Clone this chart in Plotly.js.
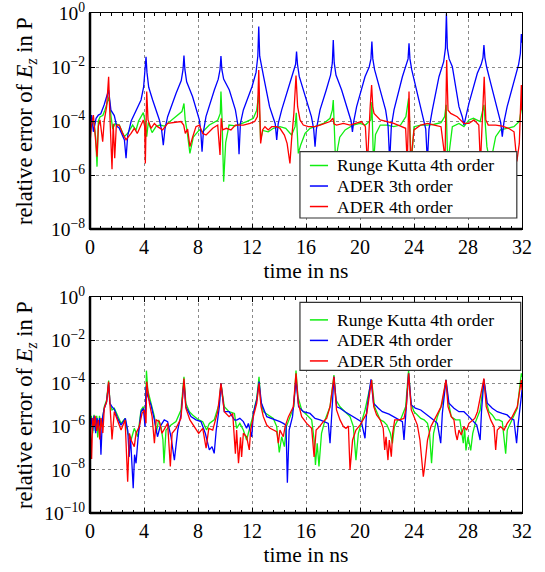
<!DOCTYPE html>
<html>
<head>
<meta charset="utf-8">
<script src="https://cdn.plot.ly/plotly-3.0.1.min.js"></script>
<style>html,body{margin:0;padding:0;background:#fff;}#chart{width:545px;height:572px;}</style>
</head>
<body>
<div id="chart"></div>
<script>
// Each entry: [time in ns, log10(relative error)]
const seriesNamesTop = ["Runge Kutta 4th order", "ADER 3th order", "ADER 4th order"];
const seriesNamesBottom = ["Runge Kutta 4th order", "ADER 4th order", "ADER 5th order"];
const xTicks = [0, 4, 8, 12, 16, 20, 24, 28, 32];
const yTickExpTop = [0, -2, -4, -6, -8];
const yTickExpBottom = [0, -2, -4, -6, -8, -10];
const xTitle = "time in ns";
const yTitle = "relative error of <i>E<sub>z</sub></i> in P";

const topRk4 = [[0,-4.2],[0.15,-3.9],[0.3,-4.1],[0.42,-4.6],[0.52,-5.69],[0.62,-4.0],[0.75,-3.84],[0.95,-3.8],[1.1,-3.6],[1.3,-3.22],[1.42,-3.1],[1.55,-3.8],[1.68,-4.3],[1.85,-4.1],[2.17,-4.15],[2.54,-4.58],[2.8,-4.45],[3.16,-4.15],[3.4,-4.35],[3.6,-4.0],[3.78,-3.84],[3.95,-3.69],[4.08,-4.0],[4.2,-4.58],[4.32,-4.05],[4.6,-4.43],[4.9,-4.2],[5.2,-4.15],[5.5,-4.19],[5.9,-4.02],[6.37,-3.84],[6.81,-3.65],[6.96,-3.35],[7.05,-3.95],[7.2,-4.4],[7.4,-5.2],[7.65,-4.6],[8.1,-4.33],[8.35,-4.4],[8.84,-4.15],[9.46,-3.97],[9.65,-3.72],[9.7,-2.91],[9.78,-3.9],[9.9,-6.25],[10.05,-4.8],[10.3,-4.15],[10.77,-4.18],[11.6,-4.02],[12.1,-3.9],[12.35,-3.6],[12.5,-2.98],[12.64,-4.7],[12.8,-4.35],[13.2,-4.4],[13.58,-4.27],[14.07,-4.21],[14.5,-4.27],[14.93,-4.52],[15.19,-4.21],[15.28,-3.7],[15.43,-5.2],[15.6,-4.9],[15.93,-4.46],[16.3,-4.27],[16.79,-4.19],[17.3,-4.09],[17.78,-3.9],[17.95,-3.6],[18.02,-3.22],[18.1,-4.2],[18.2,-5.6],[18.35,-5.0],[18.5,-4.6],[18.9,-4.33],[19.5,-4.15],[19.98,-4.09],[20.4,-4.15],[20.8,-3.96],[20.88,-3.3],[21.0,-5.6],[21.15,-4.5],[21.5,-4.15],[22.0,-4.15],[22.5,-4.21],[23.0,-4.15],[23.4,-3.84],[23.6,-3.16],[23.7,-4.3],[23.8,-5.6],[24.0,-4.21],[24.5,-4.15],[25.0,-4.15],[25.5,-4.12],[26.0,-4.06],[26.27,-3.84],[26.38,-3.4],[26.5,-5.6],[26.84,-4.21],[27.33,-4.09],[27.7,-4.21],[28.07,-3.96],[28.4,-3.9],[28.9,-4.02],[29.18,-3.4],[29.4,-4.95],[29.65,-5.6],[30.05,-4.58],[30.4,-4.33],[30.9,-4.27],[31.4,-4.21],[31.8,-4.02],[32.0,-3.4]];

const topAder3 = [[0,-4.21],[0.12,-3.78],[0.25,-4.4],[0.45,-3.9],[0.62,-3.78],[0.8,-3.73],[1.05,-3.4],[1.25,-3.1],[1.38,-2.85],[1.48,-3.3],[1.55,-3.6],[1.8,-3.8],[1.98,-4.2],[2.15,-4.25],[2.4,-4.5],[2.55,-4.7],[2.67,-5.38],[2.79,-4.55],[3.05,-4.0],[3.41,-3.59],[3.78,-3.22],[3.97,-2.75],[4.08,-2.2],[4.15,-1.62],[4.22,-2.2],[4.35,-2.75],[4.64,-3.22],[5.14,-3.96],[5.31,-4.35],[5.43,-4.9],[5.55,-4.3],[5.75,-3.84],[6.37,-2.98],[6.76,-2.5],[6.89,-2.1],[6.96,-1.58],[7.03,-2.1],[7.16,-2.55],[7.6,-3.1],[8.1,-3.96],[8.2,-4.35],[8.3,-5.14],[8.4,-4.4],[8.59,-3.84],[9.21,-2.85],[9.5,-2.45],[9.63,-2.1],[9.7,-1.59],[9.77,-2.1],[9.9,-2.45],[10.32,-2.85],[10.77,-3.59],[10.94,-4.1],[11.04,-5.23],[11.14,-4.1],[11.36,-3.59],[12.0,-2.73],[12.3,-2.2],[12.43,-1.6],[12.5,-0.5],[12.57,-1.6],[12.7,-2.0],[12.86,-2.36],[13.3,-3.47],[13.72,-4.1],[13.83,-4.7],[13.94,-4.1],[14.2,-3.59],[14.81,-2.6],[15.1,-2.2],[15.23,-1.9],[15.3,-1.43],[15.37,-1.9],[15.5,-2.35],[15.9,-2.98],[16.4,-3.84],[16.57,-4.3],[16.67,-4.95],[16.77,-4.3],[17.04,-3.59],[17.5,-2.85],[17.82,-2.3],[17.95,-1.85],[18.02,-1.0],[18.09,-1.85],[18.22,-2.3],[18.64,-2.85],[19.14,-3.72],[19.34,-4.0],[19.44,-4.4],[19.54,-4.0],[19.75,-3.47],[20.37,-2.36],[20.68,-2.0],[20.81,-1.7],[20.88,-1.06],[20.95,-1.7],[21.08,-2.1],[21.48,-2.85],[21.9,-3.6],[22.08,-4.2],[22.2,-5.5],[22.32,-4.2],[22.52,-3.59],[23.14,-2.36],[23.43,-1.95],[23.56,-1.7],[23.63,-1.12],[23.7,-1.7],[23.83,-2.1],[24.12,-2.73],[24.62,-3.84],[24.87,-4.3],[24.99,-5.5],[25.11,-4.3],[25.36,-3.59],[25.85,-2.36],[26.2,-1.8],[26.33,-1.3],[26.4,-0.02],[26.47,-1.3],[26.6,-1.7],[26.84,-1.99],[27.33,-3.47],[27.58,-3.85],[27.7,-4.15],[27.82,-3.85],[28.07,-3.35],[28.69,-2.23],[28.98,-1.9],[29.11,-1.65],[29.18,-1.19],[29.25,-1.65],[29.38,-2.0],[29.68,-2.6],[30.17,-3.59],[30.42,-4.05],[30.54,-4.58],[30.66,-4.05],[30.9,-3.47],[31.53,-2.36],[31.75,-1.9],[31.88,-1.5],[31.95,-0.78],[32.0,-1.1]];

const topAder4 = [[0,-4.83],[0.1,-4.2],[0.25,-3.78],[0.38,-4.4],[0.52,-5.32],[0.62,-4.2],[0.74,-3.96],[0.94,-4.77],[1.05,-4.0],[1.23,-3.47],[1.38,-2.36],[1.48,-3.9],[1.63,-5.79],[1.72,-4.1],[1.83,-5.38],[1.95,-4.15],[2.17,-4.15],[2.42,-4.46],[2.67,-4.7],[3.04,-4.46],[3.28,-4.27],[3.5,-4.46],[3.78,-4.15],[3.95,-3.96],[4.05,-4.2],[4.1,-5.57],[4.2,-2.91],[4.3,-3.96],[4.52,-4.27],[4.77,-4.09],[5.0,-4.21],[5.38,-4.33],[5.75,-4.09],[6.25,-4.06],[6.74,-4.02],[6.94,-4.15],[7.06,-4.46],[7.23,-4.3],[7.4,-4.95],[7.6,-4.6],[7.85,-4.21],[8.1,-4.15],[8.35,-4.46],[8.6,-4.52],[9.09,-4.27],[9.46,-4.15],[9.63,-5.26],[9.72,-3.9],[9.83,-4.33],[10.1,-4.27],[10.44,-4.33],[10.77,-4.15],[11.36,-4.15],[11.85,-4.09],[12.2,-4.02],[12.4,-3.84],[12.5,-2.11],[12.64,-4.83],[12.78,-4.33],[12.96,-4.21],[13.2,-4.33],[13.46,-4.21],[13.83,-4.21],[14.07,-4.27],[14.4,-4.52],[14.6,-4.83],[14.81,-5.57],[14.93,-4.7],[15.1,-3.72],[15.26,-2.32],[15.38,-3.47],[15.56,-3.96],[15.8,-4.15],[16.17,-4.21],[16.67,-4.21],[17.04,-4.15],[17.41,-4.09],[17.78,-4.02],[18.0,-3.9],[18.07,-4.1],[18.26,-4.15],[18.77,-4.09],[19.26,-4.15],[19.75,-4.09],[20.1,-4.02],[20.4,-4.21],[20.55,-5.6],[20.75,-3.5],[20.86,-2.67],[20.95,-3.5],[21.04,-3.72],[21.5,-3.96],[22.0,-4.02],[22.5,-4.09],[23.0,-4.19],[23.38,-4.27],[23.5,-5.6],[23.63,-2.91],[23.75,-5.6],[24.0,-4.33],[24.5,-4.15],[25.0,-4.09],[25.5,-4.15],[26.0,-4.21],[26.3,-5.4],[26.42,-1.74],[26.52,-3.6],[26.72,-3.72],[27.2,-3.84],[27.7,-4.09],[28.07,-4.09],[28.44,-3.96],[28.8,-4.15],[28.92,-5.6],[29.2,-2.36],[29.32,-3.96],[29.5,-4.15],[30.05,-4.15],[30.54,-4.19],[31.0,-4.27],[31.41,-4.4],[31.62,-5.5],[31.8,-4.83],[31.95,-2.67],[32.0,-3.6]];

const botRk4 = [[0,-6.0],[0.1,-5.5],[0.2,-6.3],[0.3,-5.45],[0.4,-6.2],[0.5,-5.5],[0.57,-6.5],[0.7,-5.5],[0.85,-6.0],[0.95,-5.45],[1.06,-5.08],[1.23,-4.77],[1.38,-3.87],[1.48,-4.92],[1.63,-5.23],[1.8,-5.15],[2.05,-5.54],[2.3,-5.85],[2.6,-5.62],[2.8,-6.31],[3.04,-6.62],[3.28,-6.08],[3.53,-6.47],[3.78,-5.23],[3.95,-5.08],[4.1,-5.54],[4.18,-3.41],[4.28,-4.31],[4.52,-4.92],[4.77,-5.54],[4.9,-6.31],[5.09,-5.69],[5.26,-6.0],[5.4,-6.6],[5.48,-7.7],[5.63,-6.16],[6.0,-5.93],[6.37,-5.77],[6.74,-5.23],[6.96,-3.69],[7.1,-4.92],[7.36,-5.31],[7.6,-5.46],[7.98,-5.66],[8.35,-5.77],[8.64,-6.16],[8.84,-5.85],[9.2,-5.69],[9.58,-4.92],[9.7,-4.0],[9.95,-5.08],[10.3,-5.31],[10.7,-5.39],[10.86,-6.08],[11.1,-5.85],[11.36,-6.16],[11.6,-6.62],[11.85,-6.08],[12.05,-5.54],[12.2,-5.08],[12.35,-4.69],[12.52,-3.7],[12.64,-4.77],[12.84,-5.31],[13.2,-5.46],[13.58,-5.62],[13.83,-6.0],[14.02,-7.2],[14.2,-6.47],[14.4,-6.93],[14.55,-6.0],[14.81,-5.54],[15.1,-5.08],[15.26,-3.41],[15.4,-4.61],[15.68,-5.23],[16.05,-5.46],[16.42,-5.69],[16.6,-6.6],[16.7,-7.78],[16.83,-6.77],[16.96,-7.85],[17.15,-6.31],[17.41,-5.69],[17.78,-5.08],[18.07,-3.61],[18.22,-4.77],[18.52,-5.08],[18.89,-5.31],[19.26,-5.54],[19.51,-6.0],[19.7,-7.55],[19.88,-6.31],[20.1,-5.77],[20.37,-5.23],[20.86,-3.84],[21.08,-5.08],[21.5,-5.69],[21.75,-5.77],[22.0,-5.93],[22.25,-6.31],[22.4,-6.78],[22.55,-6.0],[22.8,-5.69],[23.0,-5.69],[23.38,-5.08],[23.6,-3.38],[23.77,-4.92],[24.0,-5.31],[24.25,-5.46],[24.5,-5.62],[24.75,-5.69],[25.0,-5.85],[25.15,-6.31],[25.3,-7.7],[25.45,-6.31],[25.73,-5.54],[26.1,-4.92],[26.37,-3.84],[26.52,-4.77],[26.76,-5.54],[27.09,-5.69],[27.4,-5.69],[27.65,-6.77],[27.75,-6.08],[27.85,-7.1],[28.0,-6.47],[28.2,-7.1],[28.35,-6.31],[28.57,-5.77],[28.9,-5.23],[29.18,-3.84],[29.38,-4.92],[29.55,-5.31],[29.8,-5.46],[30.05,-5.69],[30.3,-5.69],[30.54,-5.77],[30.79,-7.25],[30.91,-6.16],[31.28,-5.69],[31.65,-5.15],[31.95,-3.53],[32.0,-3.7]];

const botAder4 = [[0,-6.1],[0.1,-5.6],[0.2,-6.2],[0.3,-5.5],[0.42,-6.3],[0.52,-5.6],[0.62,-6.0],[0.72,-5.6],[0.81,-7.3],[0.92,-5.6],[1.06,-5.15],[1.23,-4.85],[1.38,-4.0],[1.48,-4.92],[1.63,-5.08],[1.8,-5.2],[2.05,-5.62],[2.3,-5.93],[2.62,-5.62],[2.8,-6.2],[2.9,-7.4],[3.0,-6.47],[3.2,-8.85],[3.3,-7.3],[3.41,-7.7],[3.55,-6.6],[3.78,-5.31],[3.95,-5.15],[4.08,-6.0],[4.15,-4.15],[4.28,-4.6],[4.52,-5.0],[4.77,-5.69],[5.0,-6.47],[5.19,-6.0],[5.5,-5.69],[5.75,-5.77],[6.0,-6.47],[6.25,-7.55],[6.5,-6.16],[6.74,-5.46],[6.96,-3.92],[7.1,-5.08],[7.48,-5.54],[7.85,-5.69],[8.22,-5.77],[8.54,-6.31],[8.7,-6.7],[8.84,-7.08],[9.04,-6.93],[9.2,-7.24],[9.35,-6.16],[9.58,-5.08],[9.7,-4.0],[9.95,-5.31],[10.3,-5.31],[10.7,-5.69],[10.86,-5.7],[11.1,-5.62],[11.36,-5.77],[11.6,-6.08],[11.73,-5.85],[11.98,-6.47],[12.1,-5.39],[12.35,-4.77],[12.52,-3.92],[12.7,-4.92],[13.09,-5.54],[13.46,-5.62],[13.83,-5.69],[14.07,-5.77],[14.32,-5.85],[14.52,-5.93],[14.62,-8.6],[14.75,-6.16],[15.0,-5.54],[15.26,-3.84],[15.45,-5.08],[15.8,-5.31],[16.3,-5.39],[16.67,-5.62],[17.04,-5.69],[17.41,-5.77],[17.65,-5.85],[17.78,-6.77],[17.9,-5.23],[18.07,-3.69],[18.27,-5.08],[18.52,-5.15],[18.89,-5.31],[19.26,-5.46],[19.63,-5.62],[19.88,-5.69],[20.1,-5.77],[20.37,-6.54],[20.5,-5.23],[20.81,-3.81],[21.0,-4.92],[21.36,-5.15],[21.65,-5.31],[22.15,-5.42],[22.5,-5.54],[22.9,-5.69],[23.14,-5.77],[23.26,-6.62],[23.4,-5.23],[23.6,-3.53],[23.8,-5.0],[24.1,-5.15],[24.5,-5.23],[24.86,-5.39],[25.2,-5.54],[25.45,-5.69],[25.73,-5.85],[25.98,-6.77],[26.1,-5.39],[26.37,-3.84],[26.59,-4.92],[26.96,-5.15],[27.33,-5.31],[27.7,-5.31],[28.07,-5.54],[28.44,-5.77],[28.65,-5.93],[28.9,-6.62],[29.0,-5.31],[29.18,-3.81],[29.43,-4.92],[29.8,-5.15],[30.17,-5.31],[30.54,-5.39],[30.9,-5.46],[31.16,-5.62],[31.4,-5.69],[31.6,-6.77],[31.72,-5.85],[31.95,-4.61],[32.0,-4.31]];

const botAder5 = [[0,-5.6],[0.05,-6.8],[0.12,-7.5],[0.2,-5.6],[0.3,-6.0],[0.38,-5.5],[0.5,-6.2],[0.62,-5.7],[0.72,-6.6],[0.82,-5.6],[0.95,-6.3],[1.06,-5.15],[1.23,-4.85],[1.38,-3.92],[1.48,-5.08],[1.63,-6.6],[1.8,-5.31],[2.05,-5.77],[2.3,-6.16],[2.6,-5.69],[2.79,-8.55],[2.92,-6.31],[3.04,-6.62],[3.28,-6.93],[3.41,-6.31],[3.65,-6.0],[3.85,-5.39],[4.02,-5.23],[4.15,-5.85],[4.2,-3.92],[4.4,-4.92],[4.6,-5.54],[4.77,-6.77],[4.9,-5.69],[5.14,-5.77],[5.33,-6.31],[5.58,-6.0],[5.75,-5.85],[5.95,-7.85],[6.08,-6.31],[6.37,-6.08],[6.74,-5.62],[6.96,-3.77],[7.1,-5.15],[7.4,-5.69],[7.73,-6.0],[8.05,-6.31],[8.35,-6.08],[8.6,-7.0],[8.8,-6.08],[9.09,-6.16],[9.46,-5.31],[9.7,-4.0],[9.95,-5.31],[10.3,-5.54],[10.57,-5.39],[10.77,-7.25],[10.86,-6.16],[11.0,-7.7],[11.15,-6.5],[11.23,-7.4],[11.36,-6.31],[11.6,-6.47],[11.8,-7.08],[11.9,-6.16],[12.1,-5.54],[12.35,-4.92],[12.52,-4.0],[12.67,-5.08],[12.84,-5.54],[13.09,-5.93],[13.34,-6.08],[13.58,-6.16],[13.83,-6.24],[13.95,-6.77],[14.07,-6.16],[14.32,-6.47],[14.45,-6.0],[14.7,-5.54],[15.06,-5.08],[15.26,-3.53],[15.43,-4.92],[15.68,-5.54],[16.05,-5.85],[16.42,-6.08],[16.6,-7.4],[16.75,-6.16],[17.0,-6.0],[17.28,-5.77],[17.53,-5.62],[17.78,-5.08],[18.07,-3.69],[18.26,-5.23],[18.52,-5.69],[18.77,-6.0],[18.96,-6.08],[19.14,-5.97],[19.26,-8.01],[19.45,-6.62],[19.7,-6.16],[20.0,-5.93],[20.25,-5.69],[20.5,-5.39],[20.86,-3.84],[21.02,-5.08],[21.23,-5.46],[21.5,-5.69],[21.72,-6.08],[21.83,-7.08],[21.93,-6.47],[22.07,-7.55],[22.17,-6.62],[22.32,-7.39],[22.42,-6.31],[22.57,-5.69],[22.9,-5.69],[23.26,-5.62],[23.43,-5.08],[23.6,-3.53],[23.8,-5.23],[24.0,-5.54],[24.25,-5.93],[24.44,-6.62],[24.57,-7.47],[24.69,-8.32],[24.79,-7.85],[24.85,-7.55],[25.0,-6.62],[25.25,-6.0],[25.6,-5.54],[26.0,-5.08],[26.37,-3.84],[26.52,-5.08],[26.76,-5.54],[26.96,-5.69],[27.08,-6.31],[27.2,-6.62],[27.33,-6.16],[27.5,-6.39],[27.7,-6.0],[27.9,-6.16],[28.07,-5.85],[28.25,-5.77],[28.5,-5.62],[28.7,-5.31],[29.18,-3.77],[29.35,-5.08],[29.68,-5.69],[29.93,-6.0],[30.05,-7.08],[30.17,-6.16],[30.42,-6.0],[30.67,-6.16],[30.9,-5.85],[31.28,-5.54],[31.65,-5.08],[31.95,-3.84],[32.0,-4.31]];

const colors = ["#10ee10", "#0000ff", "#ff0000"];
const FONT = "'Liberation Serif', 'DejaVu Serif', serif";

function mk(data, name, color, xa, ya) {
  return {
    x: data.map(p => p[0]),
    y: data.map(p => Math.pow(10, p[1])),
    name: name, type: "scatter", mode: "lines",
    line: {color: color, width: 1.3},
    xaxis: xa, yaxis: ya, showlegend: false
  };
}

const traces = [
  mk(topRk4, seriesNamesTop[0], colors[0], "x", "y"),
  mk(topAder3, seriesNamesTop[1], colors[1], "x", "y"),
  mk(topAder4, seriesNamesTop[2], colors[2], "x", "y"),
  mk(botRk4, seriesNamesBottom[0], colors[0], "x2", "y2"),
  mk(botAder4, seriesNamesBottom[1], colors[1], "x2", "y2"),
  mk(botAder5, seriesNamesBottom[2], colors[2], "x2", "y2")
];

function xAxis(anchor) {
  return {
    anchor: anchor, domain: [0, 1], range: [0, 32],
    tickmode: "array", tickvals: xTicks, ticktext: xTicks.map(String),
    ticks: "inside", ticklen: 5, tickcolor: "#000", mirror: "ticks",
    minor: {dtick: 0.8, tick0: 0, ticks: "inside", ticklen: 3, tickcolor: "#000", showgrid: false},
    showline: true, linecolor: "#000", linewidth: 1,
    showgrid: true, gridcolor: "#8a8a8a", griddash: "dot", gridwidth: 1,
    zeroline: false, ticklabeloverflow: "allow",
    tickfont: {family: FONT, size: 20, color: "#000"},
    title: {text: xTitle, font: {family: FONT, size: 21.5, color: "#000"}, standoff: 5}
  };
}
function yAxis(anchor, domain, exps) {
  return {
    anchor: anchor, domain: domain, type: "log", range: [exps[exps.length - 1], 0],
    tickmode: "array",
    tickvals: exps.map(e => Math.pow(10, e)),
    ticktext: exps.map(e => "10<sup>" + (e < 0 ? "\u2212" + (-e) : String(e)) + "</sup>"),
    ticks: "inside", ticklen: 5, tickcolor: "#000", mirror: "ticks",
    showline: true, linecolor: "#000", linewidth: 1,
    showgrid: true, gridcolor: "#8a8a8a", griddash: "dot", gridwidth: 1,
    zeroline: false, ticklabeloverflow: "allow",
    tickfont: {family: FONT, size: 19.5, color: "#000"}
  };
}

const shapes = [];
const annotations = [];
[["x", "y"], ["x2", "y2"]].forEach(([xa, ya]) => {
  shapes.push({type: "line", xref: xa + " domain", yref: ya + " domain", x0: 0, x1: 0, y0: 0, y1: 1, line: {color: "#000", width: 2.5}, layer: "above"});
  shapes.push({type: "line", xref: xa + " domain", yref: ya + " domain", x0: 0, x1: 1, y0: 0, y1: 0, line: {color: "#000", width: 2.5}, layer: "above"});
  annotations.push({xref: "paper", yref: ya + " domain", x: -0.148, y: 0.5, text: yTitle, textangle: -90,
    showarrow: false, xanchor: "center", yanchor: "middle", font: {family: FONT, size: 22.5, color: "#000"}});
});

// Legend boxes (drawn as shapes + text so their rows match the reference spacing)
function legendBox(xa, ya, names, box, rows) {
  const xr = xa + " domain", yr = ya + " domain";
  shapes.push({type: "rect", xref: xr, yref: yr, x0: box[0], x1: box[1], y0: box[2], y1: box[3],
    fillcolor: "#fff", line: {color: "#333", width: 1.2}, layer: "above"});
  names.forEach((n, i) => {
    shapes.push({type: "line", xref: xr, yref: yr, x0: box[0] + 0.023, x1: box[0] + 0.065, y0: rows[i], y1: rows[i],
      line: {color: colors[i], width: 1.5}, layer: "above"});
    annotations.push({xref: xr, yref: yr, x: box[0] + 0.083, y: rows[i], text: n, showarrow: false,
      xanchor: "left", yanchor: "middle", borderpad: 0, font: {family: FONT, size: 17.5, color: "#000"}});
  });
}
legendBox("x", "y", seriesNamesTop, [0.486, 0.988, 0.051, 0.358], [0.294, 0.199, 0.104]);
legendBox("x2", "y2", seriesNamesBottom, [0.486, 0.997, 0.660, 0.975], [0.894, 0.799, 0.704]);

const layout = {
  width: 545, height: 572,
  margin: {l: 90, r: 23, t: 13, b: 59},
  paper_bgcolor: "#fff", plot_bgcolor: "#fff",
  showlegend: false,
  xaxis: xAxis("y"),
  yaxis: yAxis("x", [0.568, 1], yTickExpTop),
  xaxis2: xAxis("y2"),
  yaxis2: yAxis("x2", [0, 0.432], yTickExpBottom),
  shapes: shapes,
  annotations: annotations
};

Plotly.newPlot("chart", traces, layout, {displayModeBar: false, staticPlot: true});
</script>
</body>
</html>
